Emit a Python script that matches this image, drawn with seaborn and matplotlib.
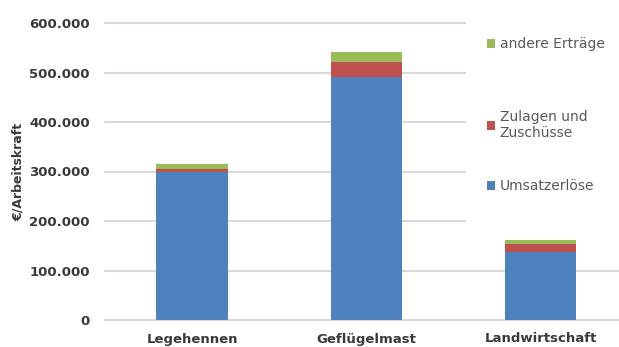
import matplotlib
matplotlib.use("Agg")
import matplotlib.pyplot as plt
import seaborn as sns
import pandas as pd
import numpy as np
from matplotlib.patches import Patch, Rectangle
from matplotlib.ticker import FuncFormatter, MultipleLocator

categories = ["Legehennen", "Geflügelmast", "Landwirtschaft"]
umsatzerloese = [298000, 490000, 138000]
zulagen = [8000, 32000, 15000]
andere = [10000, 19000, 8000]
series_labels = ["Umsatzerlöse", "Zulagen und\nZuschüsse", "andere Erträge"]
colors = ["#4F81BD", "#C0504D", "#9BBB59"]

df = pd.DataFrame({"cat": categories,
                   "u": umsatzerloese, "z": zulagen, "a": andere})
df["uz"] = df["u"] + df["z"]
df["uza"] = df["uz"] + df["a"]

sns.set_style("white")
plt.rcParams["font.family"] = ["DejaVu Sans"]

fig = plt.figure(figsize=(6.19, 3.47), dpi=100)
ax = fig.add_axes([105 / 619, 27 / 347, 514 / 619, 297 / 347])

for col, c in zip(["uza", "uz", "u"], colors[::-1]):
    sns.barplot(data=df, x="cat", y=col, color=c, width=0.41, ax=ax,
                saturation=1, edgecolor="none", linewidth=0, zorder=3)

ax.set_ylim(0, 600000)
ax.set_xlim(-0.5, 2.45)
ax.yaxis.set_major_locator(MultipleLocator(100000))
ax.yaxis.set_major_formatter(FuncFormatter(lambda v, p: f"{int(v):,}".replace(",", ".")))
ax.grid(axis="y", color="#d9d9d9", linewidth=1.5, zorder=0)
for gl in ax.get_ygridlines():
    gl.set_clip_on(False)
ax.set_axisbelow(True)
for s in ax.spines.values():
    s.set_visible(False)
ax.tick_params(axis="both", length=0)
ax.tick_params(axis="y", pad=11, labelsize=9.5, labelcolor="#3a3a3a")
ax.tick_params(axis="x", pad=9, labelsize=9.5, labelcolor="#3a3a3a")
for t in ax.get_yticklabels() + ax.get_xticklabels():
    t.set_fontweight("bold")
ax.set_xlabel("")
ax.set_ylabel("€/Arbeitskraft", fontsize=9, fontweight="bold", color="#3a3a3a", labelpad=3)

# white legend background
fig.patches.append(Rectangle((466 / 619, 1 - 232 / 347), 153 / 619, 212 / 347,
                             transform=fig.transFigure, facecolor="white",
                             edgecolor="none", zorder=1))

legend_y = [44, 125, 186]
for lab, c, y in zip(series_labels[::-1], colors[::-1], legend_y):
    leg = fig.legend(handles=[Patch(facecolor=c, edgecolor="none")], labels=[lab],
                     loc="center left", bbox_to_anchor=(487 / 619, 1 - y / 347),
                     frameon=False, fontsize=10, handlelength=0.6, handleheight=0.6,
                     handletextpad=0.3, borderpad=0, borderaxespad=0,
                     labelcolor="#595959")
    leg.set_zorder(2)

fig.savefig("out.png", dpi=100)
